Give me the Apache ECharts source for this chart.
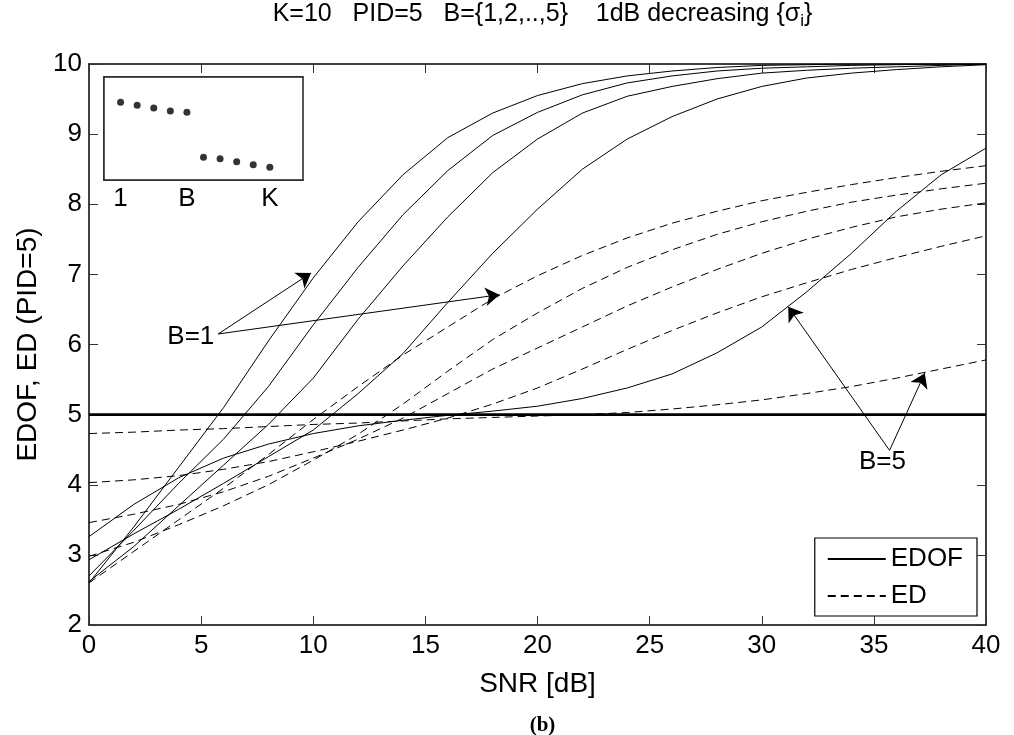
<!DOCTYPE html>
<html>
<head>
<meta charset="utf-8">
<script src="https://cdn.jsdelivr.net/npm/echarts@6/dist/echarts.min.js"></script>
<style>
html,body{margin:0;padding:0;background:#fff;}
#chart{width:1014px;height:735px;}
</style>
</head>
<body>
<div id="chart"></div>
<script>
// ---- data ----
const snr = [0,2,4,6,8,10,12,14,16,18,20,22,24,26,28,30,32,34,36,38,40];
const edofB1 = [2.6,3.4,4.25,5.1,6.05,6.95,7.75,8.42,8.95,9.3,9.55,9.72,9.83,9.9,9.95,9.98,9.99,10,10,10,10];
const edofB2 = [2.7,3.35,4.02,4.65,5.4,6.28,7.1,7.85,8.48,8.98,9.31,9.56,9.73,9.83,9.9,9.94,9.96,9.98,9.99,10,10];
const edofB3 = [2.62,3.12,3.7,4.28,4.86,5.52,6.36,7.12,7.82,8.45,8.93,9.3,9.54,9.68,9.79,9.87,9.91,9.94,9.96,9.98,10];
const edofB4 = [2.93,3.3,3.65,4.02,4.4,4.78,5.3,5.87,6.6,7.3,7.93,8.5,8.93,9.25,9.5,9.68,9.8,9.87,9.92,9.96,9.99];
const edofB5 = [3.26,3.72,4.1,4.38,4.58,4.73,4.84,4.92,4.99,5.05,5.12,5.23,5.38,5.58,5.88,6.25,6.75,7.3,7.9,8.42,8.8];
const edB1 = [2.6,3.05,3.5,3.95,4.43,4.93,5.4,5.85,6.25,6.65,6.98,7.27,7.52,7.73,7.9,8.05,8.17,8.28,8.38,8.47,8.55];
const edB2 = [2.98,3.18,3.43,3.7,4.0,4.35,4.72,5.15,5.62,6.07,6.45,6.8,7.1,7.35,7.57,7.75,7.9,8.03,8.13,8.22,8.3];
const edB3 = [3.46,3.58,3.72,3.9,4.12,4.38,4.65,4.95,5.3,5.65,5.95,6.25,6.55,6.82,7.07,7.3,7.5,7.67,7.82,7.93,8.02];
const edB4 = [4.03,4.07,4.13,4.22,4.33,4.47,4.62,4.78,4.95,5.15,5.38,5.65,5.93,6.2,6.45,6.68,6.88,7.07,7.24,7.4,7.55];
const edB5 = [4.73,4.75,4.78,4.8,4.83,4.86,4.88,4.91,4.94,4.96,4.98,5.0,5.03,5.08,5.14,5.21,5.3,5.4,5.52,5.65,5.78];
const pidLevel = 5;
const snrRange = [0, 40];

// inset: singular values (arbitrary scale)
const insetIdx = [1,2,3,4,5,6,7,8,9,10];
const insetVal = [7.54,7.25,6.99,6.7,6.57,2.2,2.07,1.78,1.49,1.23];
const insetTickPos = [1,5,10];
const insetTickLabels = ['1','B','K'];

// annotations (data coordinates)
const annB1 = { text: 'B=1', at: [4.54, 6.11], tail: [5.76, 6.15], tips: [[9.9, 7.02], [18.3, 6.71]] };
const annB5 = { text: 'B=5', at: [35.38, 4.33], tail: [35.7, 4.49], tips: [[31.18, 6.54], [37.27, 5.59]] };

// ---- chart ----
const FONT = 'Liberation Sans, Arial, Helvetica, sans-serif';
const FS = 26;
const FS_NAME = 28;
const pair = (ys) => snr.map((x, i) => [x, ys[i]]);
const solid = { color: '#000', width: 1, type: 'solid' };
const dashed = { color: '#000', width: 1, type: [8, 5] };

function curve(name, ys, ls) {
  return {
    name, type: 'line', xAxisIndex: 0, yAxisIndex: 0,
    data: pair(ys), showSymbol: false, symbol: 'none', smooth: false,
    lineStyle: ls, itemStyle: { color: '#000' }, silent: true, z: 3
  };
}
function arrowLines(a) {
  return a.tips.map(t => [{ coord: a.tail }, { coord: t }]);
}

const chart = echarts.init(document.getElementById('chart'), null, { renderer: 'canvas' });
const option = {
  animation: false,
  backgroundColor: '#fff',
  textStyle: { fontFamily: FONT },
  title: [
    {
      text: 'K=10   PID=5   B={1,2,..,5}    1dB decreasing {σ{s|i}}',
      left: 537.5, top: -6, textAlign: 'center',
      textStyle: {
        fontFamily: FONT, fontSize: 25, fontWeight: 'normal', color: '#000',
        rich: { s: { fontFamily: FONT, fontSize: 17, color: '#000', padding: [14, 0, 0, 0] } }
      }
    },
    {
      text: '(b)', left: 537.5, top: 710, textAlign: 'center',
      textStyle: { fontFamily: 'Liberation Serif, Times New Roman, serif', fontSize: 21, fontWeight: 'bold', color: '#000' }
    }
  ],
  legend: {
    data: ['EDOF', 'ED'],
    orient: 'vertical',
    right: 37, top: 538,
    itemWidth: 58, itemHeight: 14, itemGap: 11,
    padding: [8, 14, 7, 12],
    borderColor: '#000', borderWidth: 1.2, backgroundColor: '#fff',
    itemStyle: { opacity: 0, color: 'rgba(0,0,0,0)', borderWidth: 0 },
    textStyle: { fontFamily: FONT, fontSize: FS, color: '#000' },
    selectedMode: false, z: 10
  },
  grid: [
    { left: 89, right: 28, top: 64, bottom: 110, show: false },
    { left: 104, top: 77, width: 199, height: 103, show: true, borderColor: '#222', borderWidth: 1.5, backgroundColor: '#fff', z: 5 }
  ],
  xAxis: [
    {
      type: 'value', gridIndex: 0, min: 0, max: 40, interval: 5, position: 'bottom',
      name: 'SNR [dB]', nameLocation: 'middle', nameGap: 45,
      nameTextStyle: { fontFamily: FONT, fontSize: FS_NAME, color: '#000' },
      axisLine: { show: true, onZero: false, lineStyle: { color: '#000', width: 1.5 } },
      axisTick: { show: true, inside: true, length: 9, lineStyle: { color: '#333' } },
      axisLabel: { fontFamily: FONT, fontSize: FS, color: '#000', margin: 8 },
      splitLine: { show: false }
    },
    {
      type: 'value', gridIndex: 0, min: 0, max: 40, interval: 5, position: 'top',
      axisLine: { show: true, onZero: false, lineStyle: { color: '#000', width: 1.5 } },
      axisTick: { show: true, inside: true, length: 9, lineStyle: { color: '#333' } },
      axisLabel: { show: false }, splitLine: { show: false }
    },
    {
      type: 'value', gridIndex: 1, min: 0, max: 12, position: 'bottom',
      axisLine: { show: true, onZero: false, lineStyle: { color: '#222', width: 1.5 } },
      axisTick: { show: true, inside: true, length: 3, customValues: insetTickPos, lineStyle: { color: '#333' } },
      axisLabel: {
        show: true, customValues: insetTickPos, margin: 6,
        fontFamily: FONT, fontSize: FS, color: '#000',
        formatter: (v) => insetTickLabels[insetTickPos.indexOf(v)]
      },
      splitLine: { show: false }
    },
    {
      type: 'value', gridIndex: 1, min: 0, max: 12, position: 'top',
      axisLine: { show: true, onZero: false, lineStyle: { color: '#222', width: 1.5 } },
      axisTick: { show: true, inside: true, length: 3, customValues: insetTickPos, lineStyle: { color: '#333' } },
      axisLabel: { show: false }, splitLine: { show: false }
    }
  ],
  yAxis: [
    {
      type: 'value', gridIndex: 0, min: 2, max: 10, interval: 1, position: 'left',
      name: 'EDOF, ED (PID=5)', nameLocation: 'middle', nameGap: 47,
      nameTextStyle: { fontFamily: FONT, fontSize: FS_NAME, color: '#000' },
      axisLine: { show: true, onZero: false, lineStyle: { color: '#000', width: 1.5 } },
      axisTick: { show: true, inside: true, length: 9, lineStyle: { color: '#333' } },
      axisLabel: { fontFamily: FONT, fontSize: FS, color: '#000', margin: 7 },
      splitLine: { show: false }
    },
    {
      type: 'value', gridIndex: 0, min: 2, max: 10, interval: 1, position: 'right',
      axisLine: { show: true, onZero: false, lineStyle: { color: '#000', width: 1.5 } },
      axisTick: { show: true, inside: true, length: 9, lineStyle: { color: '#333' } },
      axisLabel: { show: false }, splitLine: { show: false }
    },
    {
      type: 'value', gridIndex: 1, min: 0, max: 10, position: 'left',
      axisLine: { show: true, onZero: false, lineStyle: { color: '#222', width: 1.5 } },
      axisTick: { show: false }, axisLabel: { show: false }, splitLine: { show: false }
    }
  ],
  series: [
    curve('EDOF', edofB1, solid),
    curve('EDOF', edofB2, solid),
    curve('EDOF', edofB3, solid),
    curve('EDOF', edofB4, solid),
    curve('EDOF', edofB5, solid),
    curve('ED', edB1, dashed),
    curve('ED', edB2, dashed),
    curve('ED', edB3, dashed),
    curve('ED', edB4, dashed),
    curve('ED', edB5, dashed),
    {
      name: 'PID', type: 'line', xAxisIndex: 0, yAxisIndex: 0,
      data: snrRange.map(x => [x, pidLevel]), showSymbol: false, symbol: 'none',
      lineStyle: { color: '#000', width: 2.7 }, silent: true, z: 4,
      markLine: {
        silent: true, animation: false,
        symbol: ['none', 'arrow'], symbolSize: 14,
        lineStyle: { color: '#000', width: 1, type: 'solid' },
        label: { show: false },
        emphasis: { disabled: true },
        data: arrowLines(annB1).concat(arrowLines(annB5))
      },
      markPoint: {
        silent: true, animation: false,
        symbol: 'circle', symbolSize: 1,
        itemStyle: { color: 'rgba(0,0,0,0)' },
        label: { show: true, position: 'inside', fontFamily: FONT, fontSize: FS, color: '#000', formatter: (p) => p.name },
        data: [
          { name: annB1.text, coord: annB1.at },
          { name: annB5.text, coord: annB5.at }
        ]
      }
    },
    {
      name: 'sigma', type: 'scatter', xAxisIndex: 2, yAxisIndex: 2,
      data: insetIdx.map((x, i) => [x, insetVal[i]]),
      symbol: 'circle', symbolSize: 7, itemStyle: { color: '#000' }, silent: true, z: 6
    }
  ]
};
chart.setOption(option);
</script>
</body>
</html>
